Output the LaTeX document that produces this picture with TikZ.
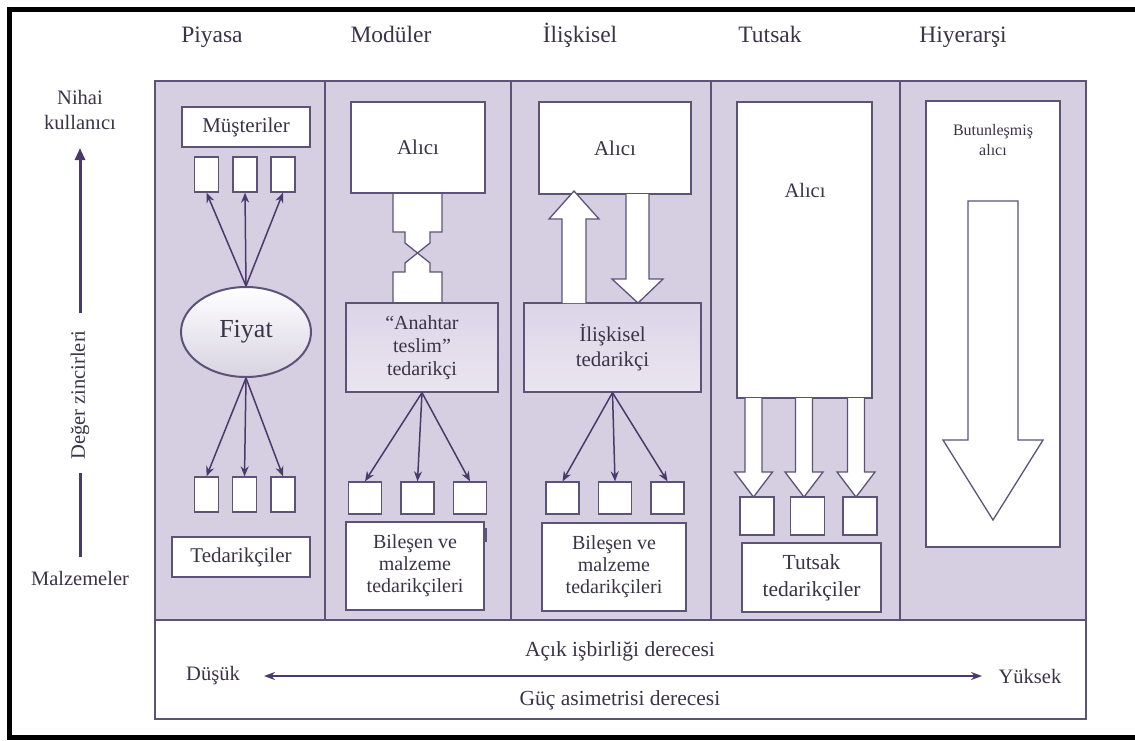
\documentclass[tikz,border=0pt]{standalone}
\usepackage{fontspec}
\setmainfont{Liberation Serif}
\usetikzlibrary{shapes.geometric,arrows.meta}

\definecolor{panel}{HTML}{D5CFE1}
\definecolor{edge}{HTML}{5C5379}
\definecolor{arrowc}{HTML}{4A3A6C}
\definecolor{txt}{HTML}{3A3448}
\definecolor{shadeA}{HTML}{DCD4E8}
\definecolor{shadeB}{HTML}{F4F1F8}

\newcommand{\fsz}[2]{\fontsize{#1}{#2}\selectfont}

\tikzset{
  lbl/.style={text=txt, align=center, inner sep=0pt, font=\fsz{20.5}{25}},
  head/.style={text=txt, inner sep=0pt, anchor=base, font=\fsz{23.5}{28}},
  wbox/.style={draw=edge, fill=white, line width=1.3pt, inner sep=0pt,
               text=txt, align=center, font=\fsz{21}{25}},
  sbox/.style={wbox, minimum width=24pt, minimum height=35pt},
  qbox/.style={wbox, minimum width=33pt, minimum height=32pt},
  gbox/.style={wbox, top color=shadeA, middle color=shadeB, bottom color=shadeA!85!edge!40},
  link/.style={draw=arrowc, line width=1.5pt, -{Stealth[length=10pt,width=8pt]}},
  blk/.style={draw=edge, fill=white, line width=1.3pt, line join=miter},
  chain/.style={draw=arrowc, line width=3pt},
}

\begin{document}
\begin{tikzpicture}[x=1pt, y=-1pt]
\useasboundingbox (0,0) rectangle (1135,740);
\fill[white] (0,0) rectangle (1135,740);

% outer frame
\draw[line width=5pt, line cap=rect] (1140,9.5) -- (9.5,9.5) -- (9.5,737.5) -- (1140,737.5);

% column headers
\node[head] (hPiy) at (212,42) {Piyasa};
\node[head] (hMod) at (391,42) {Modüler};
\node[head] (hIli) at (580,42) {İlişkisel};
\node[head] (hTut) at (770,42) {Tutsak};
\node[head] (hHiy) at (963,42) {Hiyerarşi};

% value chain axis on the left
\node[lbl] (nihai) at (80,110) {Nihai\\kullanıcı};
\node[lbl, rotate=90] (deger) at (80,395) {Değer zincirleri};
\node[lbl] (malz) at (80,578) {Malzemeler};
\coordinate (cTop) at (80,148);
\coordinate (cA) at (80,313);
\coordinate (cB) at (80,473);
\coordinate (cC) at (80,557);
\draw[chain, -{Triangle[length=12pt,width=10pt]}] (cA) -- (cTop);
\draw[chain] (cB) -- (cC);

% main panel and column dividers
\node[draw=edge, fill=panel, line width=1.3pt, minimum width=931pt, minimum height=539pt,
      inner sep=0pt] (pnl) at (620.5,350.5) {};
\foreach \xx in {325,511,711,900}
  \draw[edge, line width=1.3pt] (\xx,81) -- (\xx,620);

% bottom scale box
\node[draw=edge, fill=white, line width=1.3pt, minimum width=931pt, minimum height=99pt,
      inner sep=0pt] (scale) at (620.5,669.5) {};
\node[lbl, font=\fsz{21.5}{25}] (acik) at (620,651) {Açık işbirliği derecesi};
\node[lbl, font=\fsz{21.5}{25}] (guc) at (620,700) {Güç asimetrisi derecesi};
\node[lbl] (dusuk) at (213,676) {Düşük};
\node[lbl] (yuksek) at (1030,676) {Yüksek};
\coordinate (lo) at (264,676);
\coordinate (hi) at (982,676);
\draw[draw=arrowc, line width=2pt, {Stealth[length=11pt,width=8pt]}-{Stealth[length=11pt,width=8pt]}] (lo) -- (hi);

% ---------- Piyasa ----------
\node[wbox, minimum width=128pt, minimum height=40pt] (mus) at (246,127) {Müşteriler};
\node[sbox] (pt1) at (206.5,174.5) {};
\node[sbox] (pt2) at (245,174.5) {};
\node[sbox] (pt3) at (283,174.5) {};
\node[draw=edge, line width=2pt, ellipse, minimum width=130pt, minimum height=90pt,
      top color=white, bottom color=panel!80!edge!60, inner sep=0pt,
      text=txt, font=\fsz{26}{30}] (fiyat) at (246,332) {Fiyat};
\node[sbox] (pb1) at (206.5,494.5) {};
\node[sbox] (pb2) at (244.5,494.5) {};
\node[sbox] (pb3) at (283,494.5) {};
\node[wbox, minimum width=138pt, minimum height=40pt] (ted) at (241,557) {Tedarikçiler};
\foreach \b in {pt1,pt2,pt3} \draw[link] (fiyat.north) -- (\b.south);
\foreach \b in {pb1,pb2,pb3} \draw[link] (fiyat.south) -- (\b.north);

% ---------- Modüler ----------
% coupling between buyer and turnkey supplier
\draw[blk] (393,193) -- (393,232) -- (405,232) -- (405,243) -- (430,263) -- (430,272)
  -- (442,272) -- (442,303) -- (393,303) -- (393,272) -- (405,272) -- (405,263)
  -- (430,243) -- (430,232) -- (442,232) -- (442,193) -- cycle;
\node[wbox, minimum width=134pt, minimum height=91pt] (malici) at (418,147.5) {Alıcı};
\node[gbox, minimum width=152pt, minimum height=89pt, font=\fsz{20}{23}] (anahtar) at (422,347.5)
  {“Anahtar\\teslim”\\tedarikçi};
\node[qbox] (mb1) at (365,498) {};
\node[qbox] (mb2) at (417.5,498) {};
\node[qbox] (mb3) at (470,498) {};
\draw[edge, line width=3pt] (485,528) -- (485,542);
\node[wbox, minimum width=138pt, minimum height=88pt, font=\fsz{20}{22}] (mbil) at (415,566)
  {Bileşen ve\\malzeme\\tedarikçileri};
\foreach \b in {mb1,mb2,mb3} \draw[link] (anahtar.south) -- (\b.north);

% ---------- İlişkisel ----------
\node[wbox, minimum width=152pt, minimum height=92pt] (ialici) at (615,148) {Alıcı};
\node[gbox, minimum width=177pt, minimum height=89pt] (iliskisel) at (612.5,347.5)
  {İlişkisel\\tedarikçi};
\draw[blk] (562,303) -- (562,219) -- (549,219) -- (574,191) -- (599,219) -- (586,219) -- (586,303);
\draw[blk] (626,194) -- (626,279) -- (612,279) -- (638,303) -- (663,279) -- (649,279) -- (649,194);
\node[qbox] (ib1) at (562.5,498) {};
\node[qbox] (ib2) at (615,498) {};
\node[qbox] (ib3) at (667.5,498) {};
\node[wbox, minimum width=144pt, minimum height=88pt, font=\fsz{20}{22}] (ibil) at (614,567)
  {Bileşen ve\\malzeme\\tedarikçileri};
\foreach \b in {ib1,ib2,ib3} \draw[link] (iliskisel.south) -- (\b.north);

% ---------- Tutsak ----------
\node[wbox, minimum width=135pt, minimum height=296pt] (talici) at (804.5,250) {};
\node[lbl] (talab) at (805,190) {Alıcı};
\foreach \cx in {753.5,804,856}
  \draw[blk] (\cx-8.5,398) -- (\cx-8.5,472) -- (\cx-19,472) -- (\cx,497)
    -- (\cx+19,472) -- (\cx+8.5,472) -- (\cx+8.5,398);
\node[wbox, minimum width=34pt, minimum height=38pt] (tb1) at (757,516) {};
\node[wbox, minimum width=34pt, minimum height=38pt] (tb2) at (807.5,516) {};
\node[wbox, minimum width=34pt, minimum height=38pt] (tb3) at (860,516) {};
\node[wbox, minimum width=139pt, minimum height=69pt, font=\fsz{21.5}{27}] (tted) at (811.5,577.5)
  {Tutsak\\tedarikçiler};

% ---------- Hiyerarşi ----------
\node[wbox, minimum width=134pt, minimum height=446pt] (hbox) at (993,324) {};
\node[lbl, font=\fsz{16}{20}] (butun) at (993,140) {Butunleşmiş\\alıcı};
\draw[blk] (968,201) -- (968,440) -- (943,440) -- (993,520) -- (1043,440) -- (1018,440)
  -- (1018,201) -- cycle;

\end{tikzpicture}
\end{document}
